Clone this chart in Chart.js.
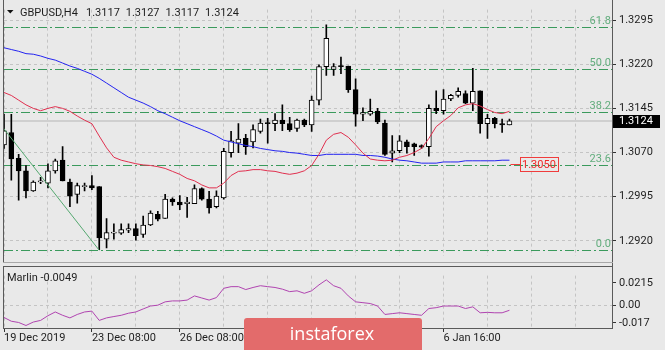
<!DOCTYPE html>
<html>
<head>
<meta charset="utf-8">
<script src="https://cdn.jsdelivr.net/npm/chart.js"></script>
<style>
  html, body { margin: 0; padding: 0; background: #e9e9e9; }
  #wrap { position: relative; width: 665px; height: 350px; overflow: hidden; }
  canvas { position: absolute; left: 0; }
  #main { top: 0; }
  #osc { top: 266px; }
</style>
</head>
<body>
<div id="wrap">
  <canvas id="main" width="665" height="266"></canvas>
  <canvas id="osc" width="665" height="84"></canvas>
</div>
<script>
// GBPUSD H4
var opens = [1.3083,1.3104,1.3060,1.3039,1.3005,1.3020,1.3018,1.3039,1.3057,1.3020,
  1.2999,1.3012,1.3014,1.3012,1.2923,1.2933,1.2933,1.2938,1.2941,1.2931,
  1.2947,1.2965,1.2958,1.2991,1.2986,1.2983,1.2983,1.3009,1.2991,1.2978,
  1.2993,1.3070,1.3086,1.3094,1.3088,1.3106,1.3120,1.3119,1.3125,1.3119,
  1.3111,1.3125,1.3117,1.3159,1.3216,1.3211,1.3217,1.3217,1.3177,1.3135,
  1.3135,1.3140,1.3120,1.3069,1.3073,1.3088,1.3085,1.3082,1.3080,1.3145,
  1.3141,1.3161,1.3167,1.3170,1.3154,1.3175,1.3119,1.3128,1.3119,1.3117];
var highs = [1.3135,1.3135,1.3067,1.3048,1.3022,1.3028,1.3051,1.3059,1.3080,1.3025,
  1.3018,1.3018,1.3031,1.3012,1.2958,1.2949,1.2949,1.2949,1.2949,1.2962,
  1.2971,1.2970,1.2999,1.2993,1.2997,1.2994,1.3015,1.3010,1.3004,1.3005,
  1.3077,1.3106,1.3119,1.3101,1.3117,1.3127,1.3128,1.3136,1.3151,1.3130,
  1.3127,1.3127,1.3166,1.3219,1.3287,1.3221,1.3232,1.3217,1.3195,1.3146,
  1.3161,1.3145,1.3125,1.3099,1.3099,1.3091,1.3086,1.3083,1.3151,1.3175,
  1.3177,1.3169,1.3180,1.3175,1.3213,1.3175,1.3135,1.3130,1.3127,1.3127];
var lows = [1.3077,1.3023,1.2989,1.2993,1.3004,1.3017,1.3010,1.3035,1.3022,1.2978,
  1.2984,1.3005,1.3007,1.2905,1.2908,1.2923,1.2931,1.2934,1.2921,1.2926,
  1.2946,1.2954,1.2958,1.2980,1.2973,1.2960,1.2983,1.2989,1.2967,1.2976,
  1.2991,1.3062,1.3070,1.3067,1.3078,1.3103,1.3086,1.3107,1.3107,1.3106,
  1.3106,1.3114,1.3106,1.3151,1.3201,1.3201,1.3204,1.3172,1.3115,1.3124,
  1.3133,1.3119,1.3065,1.3054,1.3070,1.3069,1.3065,1.3077,1.3064,1.3136,
  1.3135,1.3158,1.3164,1.3153,1.3141,1.3103,1.3094,1.3112,1.3104,1.3117];
var closes = [1.3107,1.3059,1.3039,1.3005,1.3020,1.3022,1.3039,1.3056,1.3022,1.2996,
  1.3014,1.3014,1.3010,1.2925,1.2934,1.2935,1.2939,1.2941,1.2929,1.2947,
  1.2967,1.2957,1.2991,1.2986,1.2981,1.2986,1.3009,1.2991,1.2976,1.2996,
  1.3072,1.3090,1.3093,1.3080,1.3109,1.3120,1.3119,1.3125,1.3119,1.3109,
  1.3125,1.3117,1.3159,1.3216,1.3264,1.3216,1.3216,1.3177,1.3135,1.3138,
  1.3140,1.3122,1.3067,1.3073,1.3090,1.3080,1.3080,1.3079,1.3145,1.3141,
  1.3161,1.3167,1.3174,1.3154,1.3174,1.3119,1.3128,1.3119,1.3117,1.3124];

// moving averages (red = fast, blue = slow)
var redMA = [1.3172,1.3167,1.3159,1.3151,1.3145,1.3141,1.3145,1.3148,1.3145,1.3140,
  1.3132,1.3125,1.3119,1.3098,1.3078,1.3062,1.3057,1.3054,1.3051,1.3049,
  1.3048,1.3046,1.3043,1.3038,1.3033,1.3026,1.3022,1.3015,1.3010,1.3010,
  1.3018,1.3031,1.3038,1.3039,1.3041,1.3041,1.3039,1.3038,1.3035,1.3033,
  1.3035,1.3039,1.3048,1.3067,1.3091,1.3101,1.3104,1.3096,1.3083,1.3069,
  1.3059,1.3057,1.3056,1.3057,1.3062,1.3065,1.3070,1.3077,1.3094,1.3114,
  1.3124,1.3133,1.3146,1.3151,1.3153,1.3149,1.3143,1.3138,1.3136,1.3140];
var blueMA = [1.3248,1.3245,1.3242,1.3238,1.3237,1.3234,1.3230,1.3227,1.3222,1.3217,
  1.3213,1.3208,1.3203,1.3196,1.3188,1.3180,1.3172,1.3164,1.3159,1.3154,
  1.3148,1.3141,1.3136,1.3130,1.3124,1.3119,1.3114,1.3109,1.3104,1.3098,
  1.3091,1.3088,1.3085,1.3082,1.3080,1.3077,1.3075,1.3073,1.3072,1.3070,
  1.3069,1.3067,1.3065,1.3065,1.3067,1.3067,1.3067,1.3067,1.3067,1.3065,
  1.3065,1.3064,1.3062,1.3059,1.3057,1.3056,1.3054,1.3052,1.3052,1.3052,
  1.3054,1.3054,1.3054,1.3056,1.3056,1.3056,1.3056,1.3056,1.3057,1.3057];

// Marlin oscillator
var marlin = [-0.0118,-0.0154,-0.0166,-0.0195,-0.0162,-0.0146,-0.0101,-0.0065,-0.0097,-0.0122,
  -0.0089,-0.0065,-0.0057,-0.0146,-0.0122,-0.0109,-0.0097,-0.0077,-0.0065,-0.0036,
  -0.0008,0.0000,0.0032,0.0041,0.0041,0.0049,0.0089,0.0069,0.0049,0.0073,
  0.0162,0.0178,0.0178,0.0150,0.0170,0.0187,0.0178,0.0170,0.0154,0.0130,
  0.0138,0.0114,0.0138,0.0195,0.0243,0.0187,0.0162,0.0089,0.0032,0.0024,
  0.0016,-0.0008,-0.0089,-0.0081,-0.0073,-0.0081,-0.0089,-0.0097,-0.0032,-0.0024,
  -0.0008,-0.0008,-0.0008,-0.0032,-0.0016,-0.0073,-0.0069,-0.0073,-0.0073,-0.0049];

var priceTicks = [1.2920, 1.2995, 1.3070, 1.3145, 1.3220, 1.3295];
var marlinTicks = [0.0215, 0, -0.017];
var marlinTickLabels = ['0.0215', '0.00', '-0.017'];
var timeIdx = [0, 12, 24, 36, 48, 60];
var timeLabels = ['19 Dec 2019', '23 Dec 08:00', '26 Dec 08:00', '30 Dec 16:00', '2 Jan 16:00', '6 Jan 16:00'];

// fibonacci retracement (anchor bars and prices)
var fibHigh = 1.3519, fibLow = 1.2904;
var fibFrom = -25.8, fibTo = 13;
var fibLevels = [0, 23.6, 38.2, 50, 61.8];
var markPrice = 1.3050;

var last = closes.length - 1;
var slots = 83;
var gridIdx = [];
for (var g = 0; g <= 78; g += 6) gridIdx.push(g);

Chart.defaults.font.family = 'Roboto';
Chart.defaults.font.size = 11;
Chart.defaults.color = '#1e1e1e';

function pts(arr) { return arr.map(function(v, i) { return {x: i, y: v}; }); }
function hline(ctx, x1, x2, y) { ctx.beginPath(); ctx.moveTo(x1, y); ctx.lineTo(x2, y); ctx.stroke(); }
function vline(ctx, x, y1, y2) { ctx.beginPath(); ctx.moveTo(x, y1); ctx.lineTo(x, y2); ctx.stroke(); }

var gridCol = '#c4c4c4';

var mainDeco = {
  id: 'mainDeco',
  beforeDatasetsDraw: function(chart) {
    var ctx = chart.ctx, a = chart.chartArea, y = chart.scales.y;
    ctx.save();
    ctx.beginPath(); ctx.rect(a.left, 0, a.right - a.left, a.bottom); ctx.clip();
    var by = Math.round(y.getPixelForValue(closes[last]));
    ctx.strokeStyle = '#cfcfcf'; ctx.lineWidth = 2;
    hline(ctx, a.left, a.right, by);
    ctx.setLineDash([9, 3, 2, 3]);
    ctx.strokeStyle = '#3a9a5c'; ctx.lineWidth = 1;
    fibLevels.forEach(function(l) {
      var py = Math.round(y.getPixelForValue(fibLow + (fibHigh - fibLow) * l / 100)) + 0.5;
      hline(ctx, a.left, a.right, py);
    });
    ctx.restore();
  },
  afterDatasetsDraw: function(chart) {
    var ctx = chart.ctx, a = chart.chartArea, y = chart.scales.y;
    ctx.save();
    ctx.fillStyle = '#62ad7d';
    ctx.textAlign = 'right'; ctx.textBaseline = 'alphabetic';
    ctx.font = '11px Roboto';
    fibLevels.forEach(function(l) {
      var py = y.getPixelForValue(fibLow + (fibHigh - fibLow) * l / 100);
      ctx.fillText(l.toFixed(1), a.right - 1, py - 3);
    });
    ctx.restore();
  },
  afterDraw: function(chart) {
    var ctx = chart.ctx, a = chart.chartArea, y = chart.scales.y, x = chart.scales.x;
    ctx.save();
    // frame
    ctx.strokeStyle = '#5a5a5a'; ctx.lineWidth = 1;
    vline(ctx, 3.5, 0, 262);
    vline(ctx, 612.5, 0, 266);
    ctx.strokeStyle = '#a8a8a8';
    hline(ctx, 3, 613, 262.5);
    // current price box
    var by = y.getPixelForValue(closes[last]);
    ctx.fillStyle = '#000';
    ctx.fillRect(613, Math.round(by) - 6, 47, 13);
    ctx.fillStyle = '#fff'; ctx.font = '11px Roboto';
    ctx.textAlign = 'left'; ctx.textBaseline = 'middle';
    ctx.fillText(closes[last].toFixed(4), 619, Math.round(by) + 0.5);
    // red price label
    var mx = x.getPixelForValue(last);
    var my = Math.round(y.getPixelForValue(markPrice)) + 0.5;
    ctx.strokeStyle = '#f03c3c';
    hline(ctx, mx + 1, mx + 11, my);
    ctx.strokeRect(Math.round(mx + 11) + 0.5, my - 7, 38, 14);
    ctx.fillStyle = '#f02828';
    ctx.fillText(markPrice.toFixed(4), Math.round(mx + 13), my + 0.5);
    // title
    ctx.fillStyle = '#111';
    ctx.beginPath(); ctx.moveTo(7, 10); ctx.lineTo(13.5, 10); ctx.lineTo(10.25, 13.5); ctx.closePath(); ctx.fill();
    ctx.textBaseline = 'alphabetic';
    ctx.fillStyle = '#1e1e1e';
    ctx.fillText('GBPUSD,H4', 20, 16);
    [opens[last], highs[last], lows[last], closes[last]].forEach(function(v, k) {
      ctx.fillText(v.toFixed(4), 86 + 39.7 * k, 16);
    });
    ctx.restore();
  }
};

var mainChart = new Chart(document.getElementById('main'), {
  type: 'bar',
  data: {
    datasets: [
      { type: 'line', data: pts(redMA), borderColor: '#e0304f', borderWidth: 1, pointRadius: 0, tension: 0 },
      { type: 'line', data: pts(blueMA), borderColor: '#2424f0', borderWidth: 1, pointRadius: 0, tension: 0 },
      { type: 'line', data: [{x: fibFrom, y: fibHigh}, {x: fibTo, y: fibLow}], borderColor: '#55a870', borderWidth: 1, pointRadius: 0 },
      { data: opens.map(function(o, i) { return {x: i, y: [o, closes[i]]}; }),
        backgroundColor: opens.map(function(o, i) { return closes[i] >= o ? '#ffffff' : '#000000'; }),
        borderColor: '#000', borderWidth: 1, borderSkipped: false, barThickness: 5, minBarLength: 1, grouped: false },
      { data: highs.map(function(h, i) { return {x: i, y: [lows[i], h]}; }),
        backgroundColor: '#000', borderWidth: 0, barThickness: 1, grouped: false }
    ]
  },
  options: {
    responsive: false, animation: false, events: [],
    layout: { padding: { left: 4, right: 0, top: 3, bottom: 0 } },
    plugins: { legend: { display: false }, tooltip: { enabled: false } },
    scales: {
      x: {
        type: 'linear', min: 0, max: slots, offset: false, bounds: 'data',
        grid: { offset: false, color: gridCol, drawTicks: false },
        border: { display: false, dash: [3, 3] },
        ticks: { display: false },
        afterBuildTicks: function(s) { s.ticks = gridIdx.map(function(v) { return {value: v}; }); },
        afterFit: function(s) { s.height = 4; }
      },
      y: {
        type: 'linear', position: 'right', min: 1.28936, max: 1.33128, bounds: 'data', beginAtZero: false,
        grid: { color: gridCol, tickColor: '#333', tickLength: 4, tickBorderDash: [] },
        border: { display: false, dash: [3, 3] },
        ticks: { padding: 3, callback: function(v) { return v.toFixed(4); } },
        afterBuildTicks: function(s) { s.ticks = priceTicks.map(function(v) { return {value: v}; }); },
        afterFit: function(s) { s.width = 53; }
      }
    }
  },
  plugins: [mainDeco]
});

var oscDeco = {
  id: 'oscDeco',
  afterDraw: function(chart) {
    var ctx = chart.ctx;
    ctx.save();
    ctx.strokeStyle = '#5a5a5a'; ctx.lineWidth = 1;
    vline(ctx, 3.5, 0, 63);
    vline(ctx, 612.5, 0, 63);
    hline(ctx, 3, 613, 0.5);
    hline(ctx, 3, 613, 62.5);
    ctx.fillStyle = '#1e1e1e'; ctx.font = '11px Roboto';
    ctx.textAlign = 'left'; ctx.textBaseline = 'alphabetic';
    ctx.fillText('Marlin ' + marlin[last].toFixed(4), 7, 15);
    // logo
    ctx.fillStyle = '#e36b6b';
    ctx.beginPath();
    if (ctx.roundRect) ctx.roundRect(244, 52, 178, 36, 3); else ctx.rect(244, 52, 178, 36);
    ctx.fill();
    ctx.fillStyle = '#ffffff';
    ctx.font = '18px "Open Sans"';
    ctx.textAlign = 'center';
    ctx.fillText('instaforex', 332, 74);
    ctx.restore();
  }
};

var oscChart = new Chart(document.getElementById('osc'), {
  type: 'line',
  data: {
    datasets: [
      { data: pts(marlin), borderColor: '#b044b0', borderWidth: 1, pointRadius: 0, tension: 0 }
    ]
  },
  options: {
    responsive: false, animation: false, events: [],
    layout: { padding: { left: 4, right: 0, top: 0, bottom: 0 } },
    plugins: { legend: { display: false }, tooltip: { enabled: false } },
    scales: {
      x: {
        type: 'linear', min: 0, max: slots, offset: false, bounds: 'data',
        grid: {
          offset: false, color: gridCol, tickLength: 4, tickBorderDash: [],
          tickColor: function(c) { return c.tick && timeIdx.indexOf(c.tick.value) >= 0 ? '#333' : 'rgba(0,0,0,0)'; }
        },
        border: { display: false, dash: [3, 3] },
        ticks: {
          align: 'start', autoSkip: false, maxRotation: 0, minRotation: 0, padding: 0,
          callback: function(v) { var k = timeIdx.indexOf(v); return k < 0 ? '' : timeLabels[k]; }
        },
        afterBuildTicks: function(s) { s.ticks = gridIdx.map(function(v) { return {value: v}; }); },
        afterFit: function(s) { s.height = 22; }
      },
      y: {
        type: 'linear', position: 'right', min: -0.0219, max: 0.0284, bounds: 'data',
        grid: {
          tickColor: '#333', tickLength: 4, tickBorderDash: [],
          color: function(c) { return c.tick && c.tick.value === 0 ? gridCol : 'rgba(0,0,0,0)'; }
        },
        border: { display: false, dash: [3, 3] },
        ticks: { padding: 3, callback: function(v) { var k = marlinTicks.indexOf(v); return k < 0 ? '' : marlinTickLabels[k]; } },
        afterBuildTicks: function(s) { s.ticks = marlinTicks.map(function(v) { return {value: v}; }); },
        afterFit: function(s) { s.width = 53; }
      }
    }
  },
  plugins: [oscDeco]
});
</script>
</body>
</html>
